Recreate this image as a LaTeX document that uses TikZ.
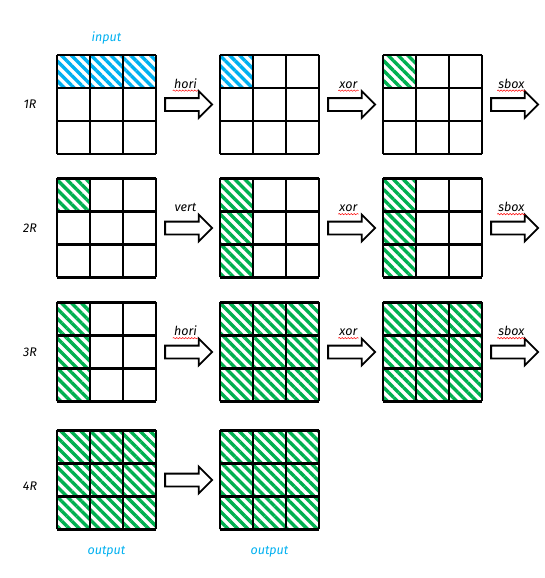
\documentclass[tikz,border=0pt]{standalone}
\usepackage{fontspec}
\setmainfont{Fira Sans}
\usetikzlibrary{calc,positioning,shapes.arrows,patterns.meta,decorations.pathmorphing}
\definecolor{hblue}{RGB}{0,176,240}
\definecolor{hgreen}{RGB}{0,176,80}
\tikzset{cellbox/.style={minimum size=99pt,inner sep=0pt},
         hatch/.style={pattern={Lines[angle=-45,distance=7pt,line width=3.4pt]},pattern color=#1},
         gridline/.style={line width=2.5pt,black},
         push/.style={single arrow,draw=black,line width=1.8pt,inner xsep=0pt,inner ysep=5.5pt,
                      minimum height=47pt,single arrow head extend=7pt},
         op/.style={font=\itshape\fontsize{12.5}{14}\selectfont,inner sep=1pt},
         wavy/.style={red,line width=.5pt,decorate,decoration={snake,amplitude=.7pt,segment length=3pt}}}
\newcommand\statebox[4]{%
  \node[cellbox] (#1) at (#2) {};
  \foreach \cx/\cy in {#4}
    \path[hatch=#3] ($(#1.north west)+(\cx*33,\cy*33)$) rectangle +(33,33);
  \draw[gridline,shift={(#1.north west)}] (0,0) grid[step=33pt] (99,99);
}

\begin{document}
\begin{tikzpicture}[x=1pt,y=-1pt]
  \useasboundingbox (0,0) rectangle (545,578);
  % round 1
  \statebox{g11}{106.5,104.5}{hblue}{0/0,1/0,2/0}
  \statebox{g12}{269.5,104.5}{hblue}{0/0}
  \statebox{g13}{432.5,104.5}{hgreen}{0/0}
  % round 2
  \statebox{g21}{106.5,228}{hgreen}{0/0}
  \statebox{g22}{269.5,228}{hgreen}{0/0,0/1,0/2}
  \statebox{g23}{432.5,228}{hgreen}{0/0,0/1,0/2}
  % round 3
  \statebox{g31}{106.5,352}{hgreen}{0/0,0/1,0/2}
  \statebox{g32}{269.5,352}{hgreen}{0/0,1/0,2/0,0/1,1/1,2/1,0/2,1/2,2/2}
  \statebox{g33}{432.5,352}{hgreen}{0/0,1/0,2/0,0/1,1/1,2/1,0/2,1/2,2/2}
  % round 4
  \statebox{g41}{106.5,480}{hgreen}{0/0,1/0,2/0,0/1,1/1,2/1,0/2,1/2,2/2}
  \statebox{g42}{269.5,480}{hgreen}{0/0,1/0,2/0,0/1,1/1,2/1,0/2,1/2,2/2}

  \node[push,right=8pt of g11] (a11) {};
  \node[push,right=8pt of g12] (a12) {};
  \node[push,right=8pt of g13] (a13) {};
  \node[push,right=8pt of g21] (a21) {};
  \node[push,right=8pt of g22] (a22) {};
  \node[push,right=8pt of g23] (a23) {};
  \node[push,right=8pt of g31] (a31) {};
  \node[push,right=8pt of g32] (a32) {};
  \node[push,right=8pt of g33] (a33) {};
  \node[push,right=8pt of g41] (a41) {};

  \node[op,above=15pt of a11.center] (o11) {hori};
  \node[op,above=15pt of a12.center] (o12) {xor};
  \node[op,above=15pt of a13.center] (o13) {sbox};
  \node[op,above=15pt of a21.center] (o21) {vert};
  \node[op,above=15pt of a22.center] (o22) {xor};
  \node[op,above=15pt of a23.center] (o23) {sbox};
  \node[op,above=15pt of a31.center] (o31) {hori};
  \node[op,above=15pt of a32.center] (o32) {xor};
  \node[op,above=15pt of a33.center] (o33) {sbox};
  \foreach \o in {o11,o12,o13,o22,o23,o31,o32,o33}
    \draw[wavy] ($(\o.base west)+(0,2.5)$) -- ($(\o.base east)+(0,2.5)$);

  \node[op] (r1) at (30,104) {1R};
  \node[op] (r2) at (30,228) {2R};
  \node[op] (r3) at (30,352) {3R};
  \node[op] (r4) at (30,486) {4R};

  \node[op,text=hblue,above=9pt of g11] (in) {input};
  \node[op,text=hblue,below=15pt of g41] (out1) {output};
  \node[op,text=hblue,below=15pt of g42] (out2) {output};
\end{tikzpicture}
\end{document}
